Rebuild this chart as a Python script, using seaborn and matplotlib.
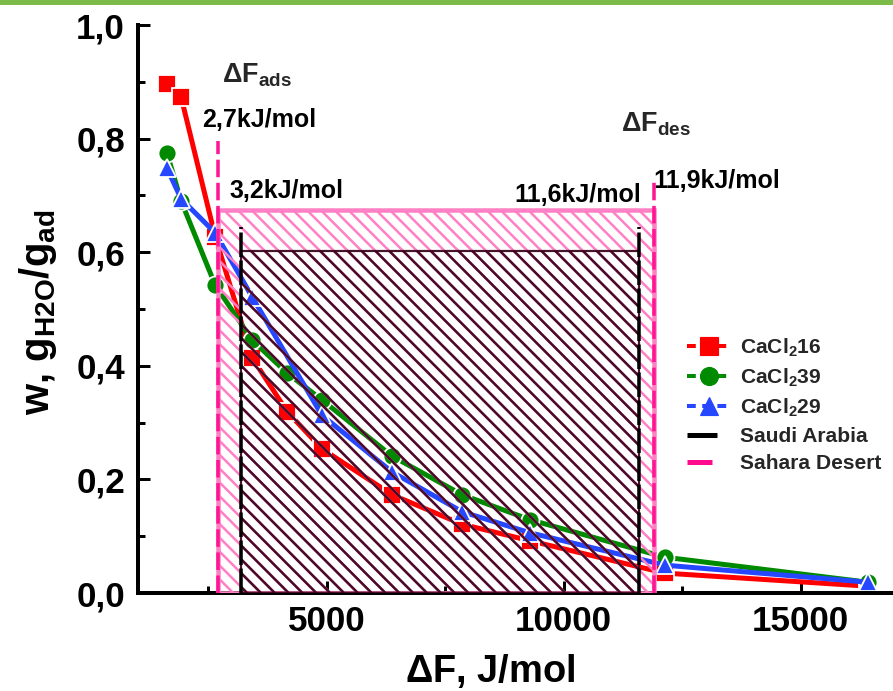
import matplotlib
matplotlib.use('Agg')
import matplotlib.pyplot as plt
from matplotlib.patches import Rectangle
from matplotlib.lines import Line2D
from matplotlib.ticker import MultipleLocator, FuncFormatter, FixedLocator
import pandas as pd
import seaborn as sns

# Water uptake w (g H2O / g adsorbent) vs. adsorption potential dF (J/mol)
dF_16 = [1630, 1930, 2650, 3430, 4170, 4900, 6380, 7860, 9290, 12140, 16420]
w_16 = [0.896, 0.873, 0.627, 0.414, 0.319, 0.254, 0.173, 0.121, 0.092, 0.035, 0.012]
dF_39 = [1630, 1930, 2650, 3430, 4170, 4900, 6380, 7860, 9290, 12140, 16420]
w_39 = [0.775, 0.690, 0.542, 0.445, 0.387, 0.340, 0.241, 0.173, 0.129, 0.063, 0.019]
dF_29 = [1630, 1930, 2650, 3430, 4900, 6380, 7860, 9290, 12140, 16420]
w_29 = [0.748, 0.694, 0.634, 0.521, 0.313, 0.213, 0.143, 0.106, 0.049, 0.019]

series_names = ['CaCl$_2$16', 'CaCl$_2$39', 'CaCl$_2$29']
series_colors = ['#ff0000', '#008a00', '#2547ff']
series_markers = ['s', 'o', '^']

# Climate windows: adsorption / desorption potentials (J/mol) and uptake level
sahara_dF = [2700, 11900]
sahara_w = 0.675
sahara_line_top = [0.795, 0.725]
saudi_dF = [3200, 11600]
saudi_w = 0.602
saudi_line_top = [0.645, 0.645]

x_ticks = [5000, 10000, 15000]
y_ticks = [0.0, 0.2, 0.4, 0.6, 0.8, 1.0]

DPI = 83
W, H = 893, 691
PT = 72.0 / DPI  # points per pixel

sns.set_theme(style='ticks')
plt.rcParams['font.family'] = ['Liberation Sans', 'DejaVu Sans']
plt.rcParams['font.weight'] = 'bold'
plt.rcParams['mathtext.default'] = 'regular'
plt.rcParams['hatch.linewidth'] = 2.5 * PT

fig = plt.figure(figsize=(W / DPI, H / DPI), dpi=DPI)
fig.patch.set_facecolor('white')
ax = fig.add_axes([138 / W, 98 / H, (W - 138) / W, 568 / H])

# green banner strip along the top edge
fig.add_artist(Rectangle((0, 1 - 5 / H), 1, 5 / H, transform=fig.transFigure,
                         facecolor='#7cbb48', edgecolor='none'))

frames = [pd.DataFrame({'dF': x, 'w': y, 'sample': n})
          for x, y, n in [(dF_16, w_16, series_names[0]),
                          (dF_39, w_39, series_names[1]),
                          (dF_29, w_29, series_names[2])]]
df = pd.concat(frames, ignore_index=True)

sns.lineplot(data=df, x='dF', y='w', hue='sample', style='sample',
             hue_order=series_names, style_order=series_names,
             palette=dict(zip(series_names, series_colors)),
             markers=dict(zip(series_names, series_markers)), dashes=False,
             markersize=18 * PT, markeredgecolor='white', markeredgewidth=1.8 * PT,
             linewidth=5 * PT, estimator=None, sort=True, legend=False, ax=ax, zorder=2)

# Sahara Desert window (pink hatch)
ax.add_patch(Rectangle((sahara_dF[0], 0), sahara_dF[1] - sahara_dF[0], sahara_w,
                       facecolor='none', edgecolor='#ff80c4', hatch='\\\\',
                       linewidth=4.5 * PT, zorder=3))
# Saudi Arabia window (dark hatch)
ax.add_patch(Rectangle((saudi_dF[0], 0), saudi_dF[1] - saudi_dF[0], saudi_w,
                       facecolor='none', edgecolor=(0.22, 0.0, 0.10, 0.92), hatch='\\\\',
                       linewidth=2.2 * PT, zorder=3.1))

for x, top in zip(sahara_dF, sahara_line_top):
    ax.plot([x, x], [0, top], color='#ff1493', lw=3.5 * PT, ls=(0, (5, 1.6)), zorder=4)
for x, top in zip(saudi_dF, saudi_line_top):
    ax.plot([x, x], [0, top], color='black', lw=3.5 * PT, ls=(0, (7, 1)), zorder=4.1)


def kj(v):
    return f"{v / 1000:.1f}".replace('.', ',') + 'kJ/mol'


txt = dict(fontsize=25 * PT, fontweight='bold', color='black', va='baseline', ha='left')
ax.text(2795, 0.898, r'$\Delta$F$_{ads}$', fontsize=27 * PT, fontweight='bold', va='baseline')
ax.text(11207, 0.812, r'$\Delta$F$_{des}$', fontsize=27 * PT, fontweight='bold', va='baseline')
ax.text(2367, 0.820, kj(sahara_dF[0]), **txt)
ax.text(11888, 0.713, kj(sahara_dF[1]), **txt)
ax.text(2943, 0.695, kj(saudi_dF[0]), **txt)
ax.text(8956, 0.688, kj(saudi_dF[1]), **txt)

ax.set_xlim(1020, 16950)
ax.set_ylim(0, 1.0)
ax.xaxis.set_major_locator(FixedLocator(x_ticks))
ax.xaxis.set_minor_locator(MultipleLocator(2500))
ax.yaxis.set_major_locator(FixedLocator(y_ticks))
ax.yaxis.set_minor_locator(MultipleLocator(0.1))
ax.yaxis.set_major_formatter(FuncFormatter(lambda v, p: f"{v:.1f}".replace('.', ',')))
ax.xaxis.set_major_formatter(FuncFormatter(lambda v, p: f"{v:.0f}"))

for s in ['top', 'right']:
    ax.spines[s].set_visible(False)
for s in ['left', 'bottom']:
    ax.spines[s].set_linewidth(4 * PT)
    ax.spines[s].set_color('black')

ax.tick_params(which='major', direction='in', length=12 * PT, width=3 * PT,
               labelsize=35 * PT, color='black', labelcolor='black')
ax.tick_params(which='minor', direction='in', length=7 * PT, width=3 * PT, color='black')
ax.tick_params(axis='y', which='major', pad=13 * PT)
ax.tick_params(axis='x', which='major', pad=12 * PT)
for lab in ax.get_xticklabels() + ax.get_yticklabels():
    lab.set_fontweight('bold')

ax.set_xlabel(r'$\Delta$F, J/mol', fontsize=38 * PT, fontweight='bold', color='black')
ax.xaxis.set_label_coords(0.466, -0.1567)
ax.xaxis.label.set_va('baseline')
ax.set_ylabel(r'w, g$_{H2O}$/g$_{ad}$', fontsize=40 * PT, fontweight='bold', color='black')
ax.yaxis.set_label_coords(-0.132, 0.495)
ax.yaxis.label.set_va('center')
ax.grid(False)
ax.set_facecolor('white')

handles = [Line2D([], [], color=c, marker=m, markersize=18 * PT, lw=4 * PT,
                  ls=(0, (2.2, 1.6)), markeredgecolor=c, label=n)
           for n, c, m in zip(series_names, series_colors, series_markers)]
handles.append(Line2D([], [], color='black', lw=5 * PT, ls=(0, (6, 10)), label='Saudi Arabia'))
handles.append(Line2D([], [], color='#ff0a8c', lw=5 * PT, ls=(0, (5, 10)), label='Sahara Desert'))
leg = ax.legend(handles=handles, loc='upper left', bbox_to_anchor=(0.727, 0.452),
                frameon=False, fontsize=21 * PT, handlelength=2.15, handletextpad=0.4,
                labelspacing=0.38, borderpad=0, borderaxespad=0)
for t in leg.get_texts():
    t.set_fontweight('bold')
leg.set_zorder(10)

fig.savefig('out.png', dpi=DPI, facecolor='white')
